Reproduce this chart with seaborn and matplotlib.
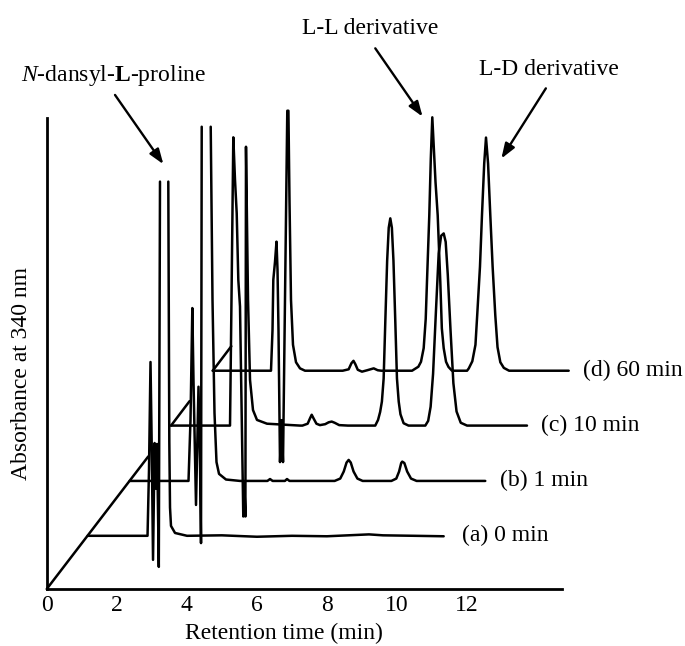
import numpy as np
import pandas as pd
import matplotlib
matplotlib.use("Agg")
import matplotlib.pyplot as plt
import seaborn as sns

# ---------------- data ----------------
trace_labels = ["(a) 0 min", "(b) 1 min", "(c) 10 min", "(d) 60 min"]
# retention time at which each offset trace begins (min) and its baseline offset (a.u.)
trace_start = [1.17, 2.37, 3.55, 4.74]
trace_base = [11.3, 22.95, 34.7, 46.35]
nan = np.nan

# (time on axis, signal above the trace baseline); (nan, nan) = off-scale gap
trace_a = [(1.17, 0), (2.878, 0), (2.92, 14.0), (2.963, 36.9), (3.00, 18.0), (3.035, -5.1),
           (3.08, 19.7), (3.12, 10.0), (3.15, 19.5), (3.20, -6.6), (3.234, 75.2), (nan, nan),
           (3.471, 75.2), (3.50, 20.0), (3.52, 6.0), (3.548, 2.1), (3.663, 0.6), (4.005, 0),
           (5.0, 0.1), (6.0, -0.2), (7.0, 0.0), (8.0, -0.1), (8.6, 0.1), (9.2, 0.3), (9.6, 0.1),
           (10.5, 0), (11.333, -0.1)]
trace_b = [(2.37, 0), (4.048, 0), (4.105, 13.0), (4.157, 36.7), (4.19, 21.4), (4.262, -5.1),
           (4.333, 20.0), (4.376, 4.5), (4.405, -13.2), (4.425, 75.2), (nan, nan),
           (4.682, 75.2), (4.733, 38.4), (4.79, 14.4), (4.847, 4.0), (4.919, 1.5), (5.118, 0.3),
           (5.518, 0), (6.30, 0), (6.375, 0.4), (6.45, 0), (6.80, 0), (6.86, 0.4), (6.93, 0),
           (8.22, 0), (8.38, 0.5), (8.48, 2.0), (8.56, 3.9), (8.62, 4.46), (8.68, 3.9),
           (8.76, 2.0), (8.87, 0.5), (9.02, 0), (9.84, 0), (9.98, 0.5), (10.06, 2.0),
           (10.12, 3.8), (10.15, 4.1), (10.21, 3.8), (10.29, 2.0), (10.40, 0.5), (10.56, 0),
           (12.52, 0)]
trace_c = [(3.55, 0), (5.233, 0), (5.275, 26.7), (5.327, 61.2), (5.375, 52.2), (5.424, 45.1),
           (5.470, 30.9), (5.518, 25.3), (5.612, -19.3), (5.64, -12.0), (5.672, -19.3),
           (5.689, 59.2), (5.747, 26.7), (5.804, 9.7), (5.889, 3.3), (6.003, 1.2), (6.289, 0.4),
           (7.232, 0), (7.30, 0), (7.45, 0.4), (7.52, 1.6), (7.565, 2.3), (7.62, 1.5), (7.70, 0.4),
           (7.80, 0.1), (7.95, 0.3), (8.05, 0.7), (8.136, 0.85), (8.22, 0.6), (8.35, 0.1),
           (8.60, 0), (9.379, 0), (9.459, 1.2), (9.519, 2.9), (9.569, 5.1), (9.619, 10.0),
           (9.666, 22.0), (9.719, 35.0), (9.764, 42.0), (9.809, 44.0), (9.854, 42.0),
           (9.899, 35.0), (9.952, 22.0), (9.999, 10.0), (10.049, 5.1), (10.099, 2.4),
           (10.189, 0.5), (10.329, 0), (10.808, 0), (10.89, 1.0), (10.96, 4.0), (11.03, 11.0),
           (11.11, 24.0), (11.19, 36.5), (11.26, 40.3), (11.333, 40.8), (11.39, 39.0),
           (11.45, 32.0), (11.53, 20.0), (11.61, 9.0), (11.70, 3.0), (11.82, 0.6), (12.0, 0),
           (13.711, 0)]
trace_d = [(4.74, 0), (6.403, 0), (6.446, 8.6), (6.469, 19.3), (6.517, 23.1), (6.560, 27.4),
           (6.589, 21.4), (6.617, 8.6), (6.660, -19.4), (6.703, -10.5), (6.746, -19.4),
           (6.868, 55.2), (6.90, 55.2), (6.931, 36.2), (6.974, 15.0), (7.031, 5.5), (7.117, 1.8),
           (7.231, 0.5), (7.374, 0), (8.45, 0), (8.62, 0.3), (8.70, 1.6), (8.758, 2.1),
           (8.81, 1.4), (8.88, 0.2), (9.0, -0.2), (9.15, 0.1), (9.335, 0.5), (9.45, 0.1),
           (9.55, 0), (10.43, 0), (10.61, 0.85), (10.685, 1.9), (10.762, 4.8), (10.82, 11.0),
           (10.856, 18.9), (10.922, 33.0), (10.965, 45.0), (11.008, 53.8), (11.06, 46.0),
           (11.10, 40.0), (11.162, 33.0), (11.236, 18.9), (11.28, 9.0), (11.333, 4.8),
           (11.40, 1.9), (11.47, 0.8), (11.57, 0), (12.0, 0), (12.05, 0.5), (12.15, 2.0),
           (12.24, 5.5), (12.29, 11.8), (12.369, 22.1), (12.426, 33.0), (12.49, 44.0),
           (12.541, 49.5), (12.60, 44.0), (12.664, 33.0), (12.73, 22.1), (12.806, 11.8),
           (12.87, 5.0), (12.95, 1.8), (13.05, 0.6), (13.2, 0), (14.902, 0)]
traces = [trace_a, trace_b, trace_c, trace_d]

x_ticks = [0, 2, 4, 6, 8, 10, 12]
peak_labels = [r"$\mathit{N}$-dansyl-$\mathbf{L}$-proline", "L-L derivative", "L-D derivative"]

# ---------------- style ----------------
sns.set_style("white")
plt.rcParams.update({
    "font.family": ["Liberation Serif", "DejaVu Serif"],
    "mathtext.fontset": "custom",
    "mathtext.rm": "Liberation Serif",
    "mathtext.it": "Liberation Serif:italic",
    "mathtext.bf": "Liberation Serif:bold",
    "axes.edgecolor": "black",
    "text.color": "black",
    "axes.labelcolor": "black",
    "xtick.color": "black",
})

fig = plt.figure(figsize=(6.85, 6.46), dpi=100)
ax = fig.add_axes([0.0682, 0.0882, 0.7522, 0.7291])

# build long table of traces
rows = []
seg = 0
for i, tr in enumerate(traces):
    for t, h in tr:
        if np.isnan(t):
            seg += 1
            continue
        rows.append({"trace": trace_labels[i], "seg": seg, "x": t, "y": trace_base[i] + h})
    seg += 1
df = pd.DataFrame(rows)

# diagonal (offset axis)
ext_x, ext_y = 0.53, 5.2
diag_rows = [
    {"seg": 0, "x": 0.0, "y": 0.0},
    {"seg": 0, "x": trace_start[1] + ext_x, "y": trace_base[1] + ext_y},
]
for k, i in enumerate([2, 3], start=1):
    diag_rows.append({"seg": k, "x": trace_start[i], "y": trace_base[i]})
    diag_rows.append({"seg": k, "x": trace_start[i] + ext_x, "y": trace_base[i] + ext_y})
ddf = pd.DataFrame(diag_rows)

sns.lineplot(data=df, x="x", y="y", units="seg", estimator=None, sort=False,
             color="black", lw=1.8, ax=ax, legend=False)
sns.lineplot(data=ddf, x="x", y="y", units="seg", estimator=None, sort=False,
             color="black", lw=1.8, ax=ax, legend=False)
for ln in ax.lines:
    ln.set_clip_on(False)
    ln.set_solid_joinstyle("round")

ax.set_xlim(0, 14.71)
ax.set_ylim(0, 100)
sns.despine(ax=ax)
for s in ["left", "bottom"]:
    ax.spines[s].set_linewidth(2.0)

ax.set_xticks(x_ticks)
ax.set_xticklabels([str(v) for v in x_ticks], fontsize=17)
ax.set_yticks([])
ax.tick_params(axis="x", direction="in", length=9.2, width=1.6, pad=4)
ax.xaxis.get_major_ticks()[0].tick1line.set_visible(False)

ax.set_xlabel("Retention time (min)", fontsize=17)
ax.xaxis.label.set_va("center")
ax.xaxis.set_label_coords(0.4595, -0.0935)
ax.set_ylabel("Absorbance at 340 nm", fontsize=17)
ax.yaxis.label.set_va("center")
ax.yaxis.set_label_coords(-0.0499, 0.4586)

# trace labels
label_x = [11.87, 12.94, 14.12, 15.30]
for i, lab in enumerate(trace_labels):
    ax.text(label_x[i], trace_base[i], lab, fontsize=17, ha="left", va="center", clip_on=False)

# peak annotations
ann_text = [(1.92, 109.1), (9.23, 119.1), (14.35, 110.2)]
ann_tail = [(1.95, 104.9), (9.38, 114.8), (14.25, 106.3)]
ann_tip = [(3.33, 90.2), (10.73, 100.3), (12.98, 91.4)]
for lab, tp, tl, tip in zip(peak_labels, ann_text, ann_tail, ann_tip):
    ax.text(tp[0], tp[1], lab, fontsize=17, ha="center", va="center", clip_on=False)
    ax.annotate("", xy=tip, xytext=tl, annotation_clip=False,
                arrowprops=dict(arrowstyle="-|>,head_length=0.5,head_width=0.18",
                                color="black", lw=1.7, mutation_scale=18,
                                shrinkA=0, shrinkB=0))

fig.savefig("out.png", dpi=100)
